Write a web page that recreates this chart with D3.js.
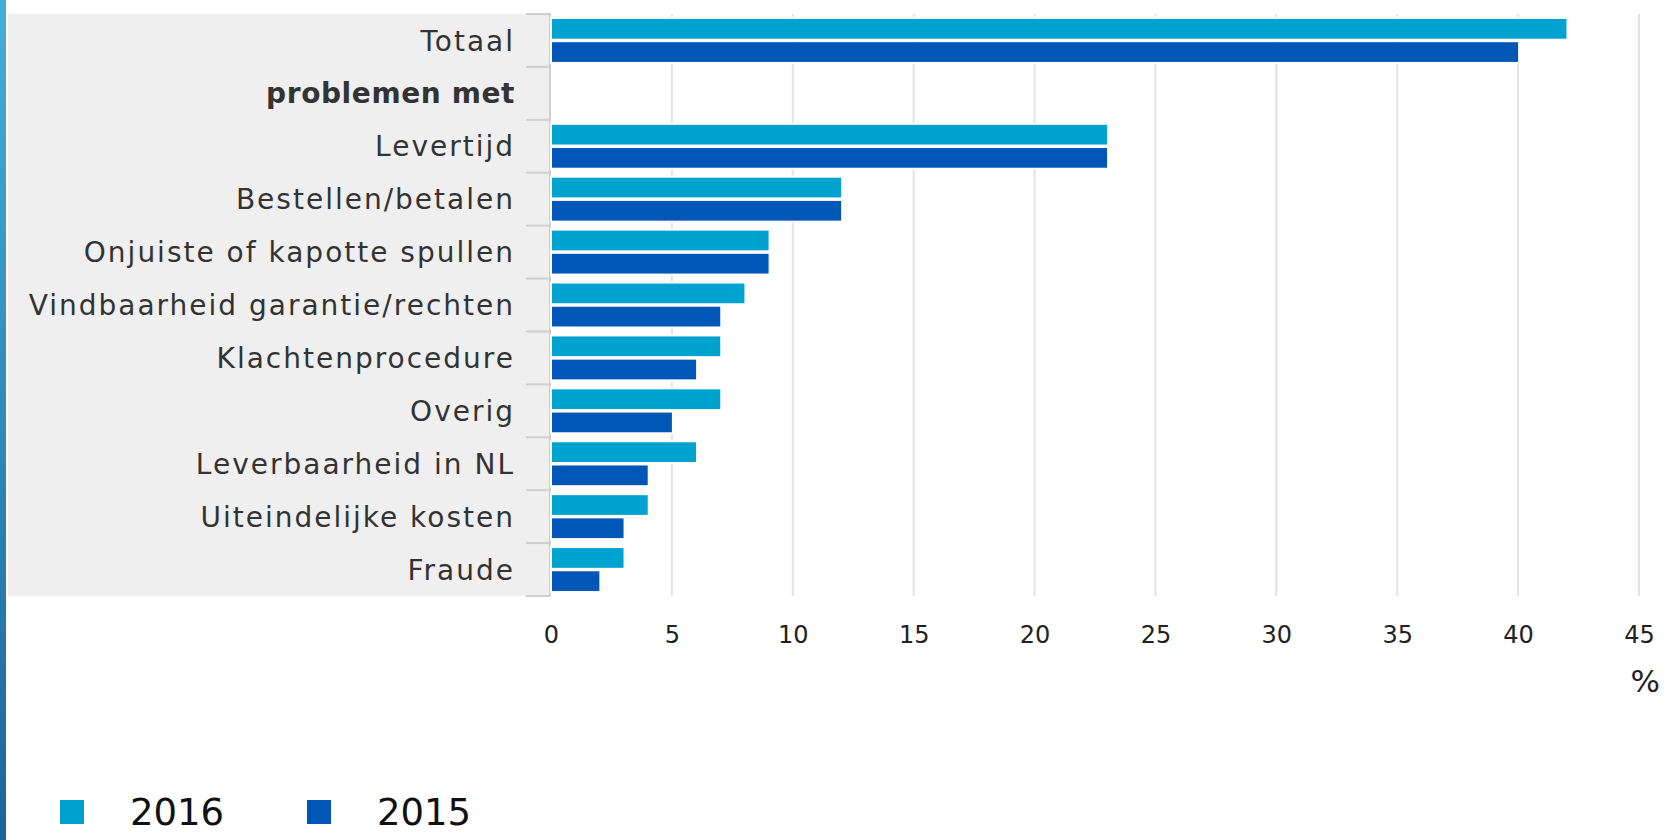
<!DOCTYPE html>
<html>
<head>
<meta charset="utf-8">
<script src="https://cdn.jsdelivr.net/npm/d3@7"></script>
<style>
    body { margin: 0; background: #fff; }
    svg { display: block; }
</style>
</head>
<body>
<div class="bar-graph"></div>
<script>
// categories, top to bottom ("problemen met" is a sub heading without data)
var categories = ["Totaal", "problemen met", "Levertijd", "Bestellen/betalen",
    "Onjuiste of kapotte spullen", "Vindbaarheid garantie/rechten", "Klachtenprocedure",
    "Overig", "Leverbaarheid in NL", "Uiteindelijke kosten", "Fraude"];
var headings = ["problemen met"];

var seriesNames = ["2016", "2015"];
var values2016 = [42, null, 23, 12, 9, 8, 7, 7, 6, 4, 3];
var values2015 = [40, null, 23, 12, 9, 7, 6, 5, 4, 3, 2];
var seriesColors = ["#00a2cf", "#0057b7"];

var xTicks = [0, 5, 10, 15, 20, 25, 30, 35, 40, 45];
var unitLabel = "%";

// set the dimensions and margins of the graph
var margin = {top: 14, right: 28, bottom: 244, left: 551},
    width = 1668 - margin.left - margin.right,
    height = 840 - margin.top - margin.bottom;

var svg = d3.select("div.bar-graph").append("svg")
    .attr("width", 1668)
    .attr("height", 840);

// blue strip on the left edge
var grad = svg.append("defs").append("linearGradient")
    .attr("id", "strip").attr("x1", 0).attr("y1", 0).attr("x2", 0).attr("y2", 1);
grad.append("stop").attr("offset", "0%").attr("stop-color", "#48aed7");
grad.append("stop").attr("offset", "100%").attr("stop-color", "#1b6598");
svg.append("rect")
    .attr("x", 0).attr("y", 0).attr("width", 6).attr("height", 840)
    .attr("fill", "url(#strip)");

var g = svg.append("g")
    .attr("transform", "translate(" + margin.left + "," + margin.top + ")");

// set the ranges
var x = d3.scaleLinear()
    .domain([0, 45])
    .range([0, 1088]);

var y = d3.scaleBand()
    .domain(categories)
    .range([0, height]);

var ySeries = d3.scaleBand()
    .domain(seriesNames)
    .range([5, y.bandwidth() - 5])
    .paddingInner(0.15);

// grey panel behind the category labels
g.append("rect")
    .attr("x", 8 - margin.left)
    .attr("y", 0)
    .attr("width", margin.left - 10)
    .attr("height", height)
    .attr("fill", "#efefef");
g.append("line")
    .attr("x1", -1).attr("x2", -1)
    .attr("y1", 0).attr("y2", height)
    .attr("stroke", "#d0d0d0")
    .attr("stroke-width", 2);

// vertical gridlines
g.selectAll(".grid")
    .data(xTicks.slice(1))
    .enter().append("line")
    .attr("class", "grid")
    .attr("x1", function (d) { return x(d); })
    .attr("x2", function (d) { return x(d); })
    .attr("y1", 0)
    .attr("y2", height)
    .attr("stroke", "#e3e3e3")
    .attr("stroke-width", 2);

// bars
var rows = categories.map(function (c, i) {
    return {cat: c, values: [values2016[i], values2015[i]]};
});

var group = g.selectAll(".row")
    .data(rows)
    .enter().append("g")
    .attr("class", "row")
    .attr("transform", function (d) { return "translate(0," + y(d.cat) + ")"; });

group.selectAll("rect")
    .data(function (d) {
        return d.values.map(function (v, j) {
            return {name: seriesNames[j], value: v, color: seriesColors[j]};
        }).filter(function (b) { return b.value !== null; });
    })
    .enter().append("rect")
    .attr("x", 1)
    .attr("y", function (d) { return ySeries(d.name); })
    .attr("height", ySeries.bandwidth())
    .attr("width", function (d) { return x(d.value) - 1; })
    .attr("fill", function (d) { return d.color; })
    .attr("stroke", "#fff")
    .attr("stroke-width", 4)
    .attr("paint-order", "stroke");

// category labels
g.selectAll(".cat-label")
    .data(categories)
    .enter().append("text")
    .attr("class", "cat-label")
    .attr("x", -36)
    .attr("y", function (d) { return y(d) + y.bandwidth() / 2; })
    .attr("dy", "0.36em")
    .attr("text-anchor", "end")
    .attr("font-family", "DejaVu Sans, Verdana, sans-serif")
    .attr("font-size", 28)
    .attr("letter-spacing", function (d) { return headings.indexOf(d) >= 0 ? 0.6 : 2; })
    .attr("font-weight", function (d) { return headings.indexOf(d) >= 0 ? "bold" : "normal"; })
    .attr("fill", "#333")
    .text(function (d) { return d; });

// small ticks between the categories
var bounds = categories.map(function (d) { return y(d); }).concat([height]);
g.selectAll(".cat-tick")
    .data(bounds)
    .enter().append("line")
    .attr("class", "cat-tick")
    .attr("x1", -25).attr("x2", 0)
    .attr("y1", function (d) { return d; })
    .attr("y2", function (d) { return d; })
    .attr("stroke", "#cfcfcf")
    .attr("stroke-width", 2);

// add the x Axis
var xAxis = g.append("g")
    .attr("transform", "translate(0," + height + ")")
    .call(d3.axisBottom(x).tickValues(xTicks).tickSize(0).tickPadding(30));
xAxis.select(".domain").remove();
xAxis.selectAll("text")
    .attr("font-family", "DejaVu Sans, sans-serif")
    .attr("font-size", 24)
    .attr("fill", "#222");

g.append("text")
    .attr("x", 1668 - margin.left - 8)
    .attr("y", height + 85)
    .attr("dy", "0.36em")
    .attr("text-anchor", "end")
    .attr("font-family", "DejaVu Sans, sans-serif")
    .attr("font-size", 31)
    .attr("fill", "#222")
    .text(unitLabel);

// legend
var legend = svg.selectAll(".legend")
    .data(seriesNames)
    .enter().append("g")
    .attr("class", "legend")
    .attr("transform", function (d, i) { return "translate(" + (60 + i * 247) + ",800)"; });
legend.append("rect")
    .attr("width", 24)
    .attr("height", 24)
    .attr("fill", function (d, i) { return seriesColors[i]; });
legend.append("text")
    .attr("x", 70)
    .attr("y", 12)
    .attr("dy", "0.36em")
    .attr("font-family", "DejaVu Sans, Verdana, sans-serif")
    .attr("font-size", 37)
    .attr("fill", "#111")
    .text(function (d) { return d; });
</script>
</body>
</html>
